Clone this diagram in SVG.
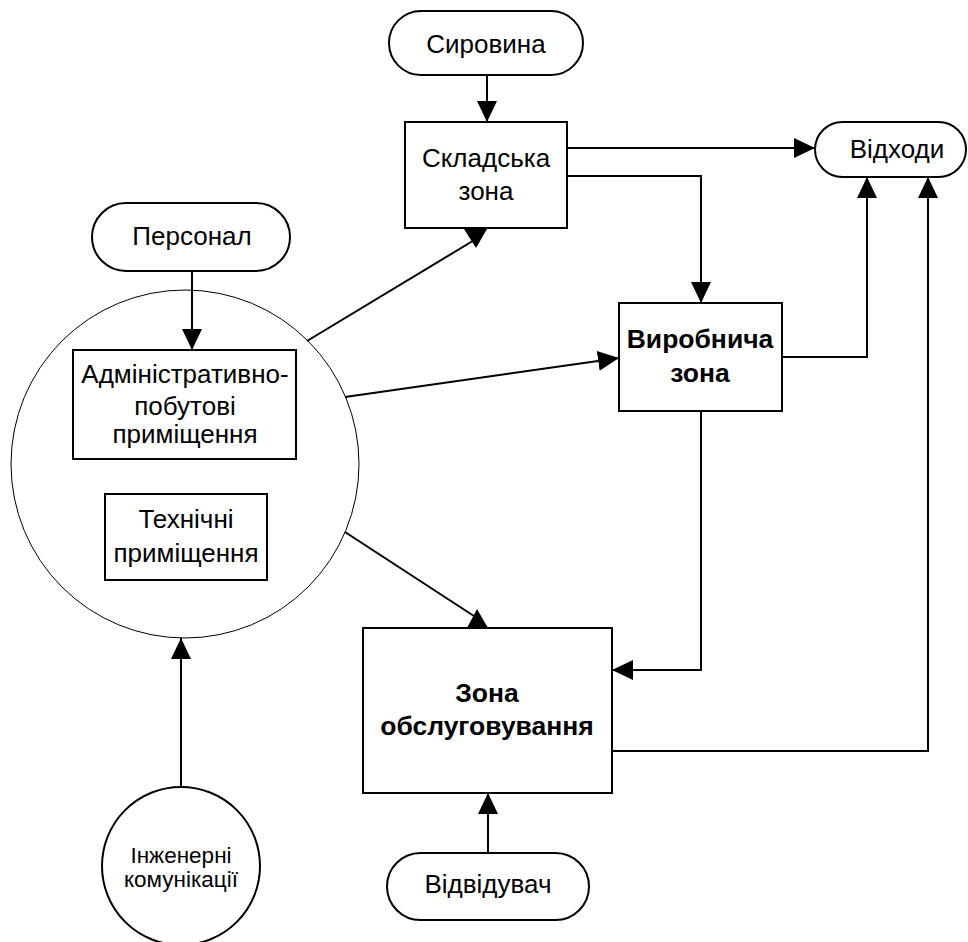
<svg xmlns="http://www.w3.org/2000/svg" width="968" height="942" viewBox="0 0 968 942">
<style>
.shape{fill:#fff;stroke:#000;stroke-width:2}
.thin{fill:#fff;stroke:#000;stroke-width:1}
.t{font-family:"Liberation Sans",Arial,sans-serif;font-size:26px;fill:#000;text-anchor:middle}
.b{font-weight:bold;font-size:26.5px}
.s{font-size:22.5px}
.c{fill:none;stroke:#000;stroke-width:2}
.ah{fill:#000;stroke:none}
</style>
<defs>
<marker id="arr" markerUnits="userSpaceOnUse" markerWidth="21" markerHeight="20" refX="21" refY="10" orient="auto">
<path d="M0,0 L21,10 L0,20 Z" fill="#000"/>
</marker>
</defs>
<g id="syrovyna">
<rect class="shape" x="389" y="11" width="194" height="64" rx="32" ry="32"/>
<text class="t" x="486" y="53">Сировина</text>
</g>
<g id="skladska">
<rect class="shape" x="405" y="122" width="162" height="106"/>
<text class="t" x="486" y="167">Складська</text>
<text class="t" x="486" y="200">зона</text>
</g>
<g id="vidkhody">
<rect class="shape" x="815" y="122" width="151" height="55" rx="27.5" ry="27.5"/>
<text class="t" x="897" y="158">Відходи</text>
</g>
<g id="personal">
<rect class="shape" x="92" y="203" width="198" height="68" rx="34" ry="34"/>
<text class="t" x="192" y="245">Персонал</text>
</g>
<g id="admin-zone">
<circle class="thin" cx="185" cy="464" r="174"/>
<g id="admin">
<rect class="shape" x="73" y="350" width="223" height="109"/>
<text class="t" x="185" y="383">Адміністративно-</text>
<text class="t" x="185" y="415">побутові</text>
<text class="t" x="185" y="443">приміщення</text>
</g>
<g id="tekhnichni">
<rect class="shape" x="105" y="494" width="162" height="86"/>
<text class="t" x="186" y="528">Технічні</text>
<text class="t" x="186" y="562">приміщення</text>
</g>
</g>
<g id="vyrobnycha">
<rect class="shape" x="619" y="303" width="163" height="108"/>
<text class="t b" x="700" y="348">Виробнича</text>
<text class="t b" x="700" y="382">зона</text>
</g>
<g id="obsluhovuvannia">
<rect class="shape" x="363" y="628" width="249" height="165"/>
<text class="t b" x="487" y="702">Зона</text>
<text class="t b" x="487" y="735">обслуговування</text>
</g>
<g id="vidviduvach">
<rect class="shape" x="387" y="853" width="202" height="67" rx="33.5" ry="33.5"/>
<text class="t" x="488" y="893">Відвідувач</text>
</g>
<g id="inzhenerni">
<circle class="shape" cx="181" cy="866" r="79"/>
<text class="t s" x="181" y="863">Інженерні</text>
<text class="t s" x="181" y="887">комунікації</text>
</g>
<g id="connectors">
<line class="c" x1="487" y1="75" x2="487" y2="122" marker-end="url(#arr)"/>
<line class="c" x1="567" y1="148" x2="815" y2="148" marker-end="url(#arr)"/>
<polyline class="c" points="567,176 701,176 701,303" marker-end="url(#arr)"/>
<line class="c" x1="192" y1="271" x2="192" y2="350" marker-end="url(#arr)"/>
<line class="c" x1="307" y1="341" x2="476" y2="239"/>
<polygon class="ah" points="464,229 487,229 476,248"/>
<line class="c" x1="345" y1="397" x2="619" y2="358" marker-end="url(#arr)"/>
<line class="c" x1="345" y1="532" x2="477" y2="618"/>
<polygon class="ah" points="467,628 488,628 477,609"/>
<polyline class="c" points="782,357 867,357 867,177" marker-end="url(#arr)"/>
<polyline class="c" points="701,411 701,670 612,670" marker-end="url(#arr)"/>
<polyline class="c" points="612,751 928,751 928,177" marker-end="url(#arr)"/>
<line class="c" x1="181" y1="787" x2="181" y2="638" marker-end="url(#arr)"/>
<line class="c" x1="488" y1="853" x2="488" y2="793" marker-end="url(#arr)"/>
</g>
</svg>
